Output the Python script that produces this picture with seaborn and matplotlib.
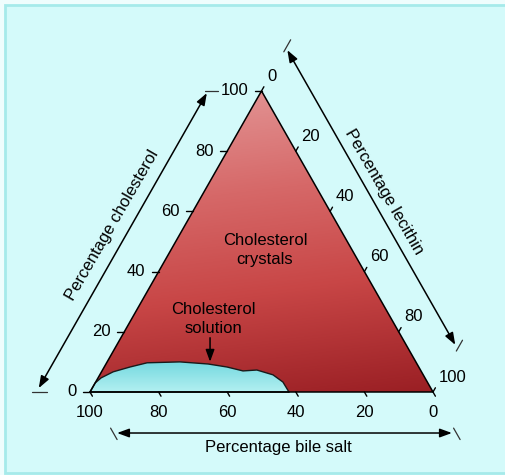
import numpy as np
import pandas as pd
import matplotlib
matplotlib.use("Agg")
import matplotlib.pyplot as plt
from matplotlib.colors import LinearSegmentedColormap
from matplotlib.patches import Polygon, Rectangle
import seaborn as sns

# --- data: boundary of the cholesterol-solution zone (percent) ---
bile_salt = [100, 97.0, 94.4, 89.9, 84.2, 78.5, 68.8, 60.9, 55.9, 51.9, 47.7, 43.8, 42.1, 42.0]
cholesterol = [0, 3.0, 4.7, 6.7, 8.3, 9.7, 10.0, 9.3, 8.3, 7.0, 7.3, 5.7, 3.3, 0]

# axis tick values
bile_ticks = [100, 80, 60, 40, 20, 0]
chol_ticks = [0, 20, 40, 60, 80, 100]
lec_ticks = [0, 20, 40, 60, 80, 100]

R3 = np.sqrt(3) / 2


def tern(b, c):
    """(bile salt %, cholesterol %) -> cartesian, lecithin at bottom right."""
    b = np.asarray(b, float)
    c = np.asarray(c, float)
    lec = 100 - b - c
    return lec + c / 2, c * R3


sns.set_style("white")
FONT = ["Liberation Sans Narrow", "Liberation Sans", "DejaVu Sans"]
plt.rcParams["font.family"] = FONT
plt.rcParams["text.color"] = "black"
FS = 12

fig = plt.figure(figsize=(5.05, 4.75), dpi=100, facecolor="#effdfd")
fig.patches.append(Rectangle((5 / 505, 2 / 475), 1.0, 468 / 475, transform=fig.transFigure,
                             facecolor="#d4fafa", edgecolor="#a6eaea", lw=2, zorder=-1))
ax = fig.add_axes([0, 0, 1, 1])
ax.set_facecolor("none")

# --- triangle with red gradient ---
apex = (50, 100 * R3)
tri = Polygon([(0, 0), (100, 0), apex], closed=True, facecolor="none",
              edgecolor="black", lw=1.1, zorder=4)
ax.add_patch(tri)
xs = np.linspace(0, 100, 300)
ys = np.linspace(0, 100 * R3, 300)
X, Y = np.meshgrid(xs, ys)
f = 0.88 * (1 - Y / (100 * R3)) + 0.12 * X / 100
red_cmap = LinearSegmentedColormap.from_list(
    "reds", [(0, "#e49a9a"), (0.35, "#d66868"), (0.65, "#c84646"), (1.0, "#9a1f24")])
im = ax.imshow(f, extent=(0, 100, 0, 100 * R3), origin="lower", cmap=red_cmap,
               vmin=0, vmax=1, aspect="auto", zorder=1, interpolation="bilinear")
im.set_clip_path(Polygon([(0, 0), (100, 0), apex], closed=True, transform=ax.transData))

# --- cholesterol solution zone ---
bx, by = tern(bile_salt, cholesterol)
blob = pd.DataFrame({"x": bx, "y": by})
ymax = by.max()
Yb = np.linspace(0, ymax, 100)[:, None] * np.ones((1, 10))
cyan_cmap = LinearSegmentedColormap.from_list("cy", ["#b2f0f1", "#74d8df"])
im2 = ax.imshow(Yb, extent=(0, 100, 0, ymax), origin="lower", cmap=cyan_cmap,
                aspect="auto", zorder=2, interpolation="bilinear")
im2.set_clip_path(Polygon(np.column_stack([bx, by]), closed=True, transform=ax.transData))
sns.lineplot(data=blob, x="x", y="y", sort=False, color="#1a1a1a", lw=1.0, ax=ax, zorder=3)
ax.plot([bx[0], bx[-1]], [0, 0], color="black", lw=1.1, zorder=4)
ax.set_xlim(-26.24, 120.99)
ax.set_ylim(-23.88, 112.77)
ax.axis("off")

# --- ticks and tick labels ---
u60 = np.array([0.5, R3])      # direction of the left edge
d120 = np.array([0.5, -R3])    # outward along constant bile-salt lines
for b in bile_ticks:
    x0 = 100 - b
    ax.plot([x0, x0 + 1.4 * d120[0]], [0, 1.4 * d120[1]], color="black", lw=1, zorder=4)
    ax.text(x0, -5.8, f"{b}", ha="center", va="center", fontsize=FS)
for c in chol_ticks:
    x0, y0 = c / 2, c * R3
    ax.plot([x0 - 2.0, x0], [y0, y0], color="black", lw=1, zorder=4)
    ax.text(x0 - 3.9, y0, f"{c}", ha="right", va="center", fontsize=FS)
for l in lec_ticks:
    c = 100 - l
    x0, y0 = l + c / 2, c * R3
    ax.plot([x0, x0 + 1.4 * u60[0]], [y0, y0 + 1.4 * u60[1]], color="black", lw=1, zorder=4)
    ax.text(x0 + 1.6, y0 + 4.3, f"{l}", ha="left", va="center", fontsize=FS)

# --- axis arrows with end strokes ---
arrow_kw = dict(arrowstyle="<|-|>,head_length=0.6,head_width=0.22", color="black",
                lw=1.1, shrinkA=0, shrinkB=0, mutation_scale=12)
nL = np.array([-R3, 0.5])
nR = np.array([R3, 0.5])
eL = np.array([0.5, R3])
eR = np.array([-0.5, R3])
p1 = 13.5 * nL + (-6.5) * eL
p2 = 13.5 * nL + 91.5 * eL
ax.annotate("", xy=p1, xytext=p2, arrowprops=arrow_kw)
q1 = np.array([100, 0]) + 12.4 * nR + 8.5 * eR
q2 = np.array([100, 0]) + 12.4 * nR + 106.4 * eR
ax.annotate("", xy=q1, xytext=q2, arrowprops=arrow_kw)
ax.annotate("", xy=(7.9, -11.8), xytext=(105.5, -11.8), arrowprops=arrow_kw)

# short extension strokes of the bounding grid lines
ax.plot([-16.9, -12.6], [0, 0], color="#333333", lw=0.9)
ax.plot([33.5, 37.4], [100 * R3, 100 * R3], color="#333333", lw=0.9)
for x0 in (0, 100):
    t = np.array([12.0, 15.8])
    ax.plot(x0 + t * 0.5, -t * R3, color="#333333", lw=0.9)
for base in ((0, 0), (100, 0)):
    t = np.array([13.6, 17.2]) if base == (100, 0) else np.array([113.0, 117.0])
    ax.plot(base[0] + t * 0.5, base[1] + t * R3, color="#333333", lw=0.9)

# --- axis titles ---
ax.text(6.5, 48.0, "Percentage cholesterol", rotation=60, rotation_mode="anchor",
        ha="center", va="center", fontsize=FS)
ax.text(85.7, 57.6, "Percentage lecithin", rotation=-60, rotation_mode="anchor",
        ha="center", va="center", fontsize=FS)
ax.text(55.0, -16.0, "Percentage bile salt", ha="center", va="center", fontsize=FS)

# --- region labels ---
ax.text(51.0, 40.9, "Cholesterol\ncrystals", ha="center", va="center", fontsize=FS,
        linespacing=1.35, zorder=5)
ax.text(35.9, 20.9, "Cholesterol\nsolution", ha="center", va="center", fontsize=FS,
        linespacing=1.35, zorder=5)
ax.annotate("", xy=(35.0, 8.7), xytext=(35.0, 15.6),
            arrowprops=dict(arrowstyle="-|>,head_length=0.6,head_width=0.22", color="black",
                            lw=1.1, shrinkA=0, shrinkB=0, mutation_scale=12), zorder=6)

fig.savefig("out.png", dpi=100, facecolor=fig.get_facecolor())
